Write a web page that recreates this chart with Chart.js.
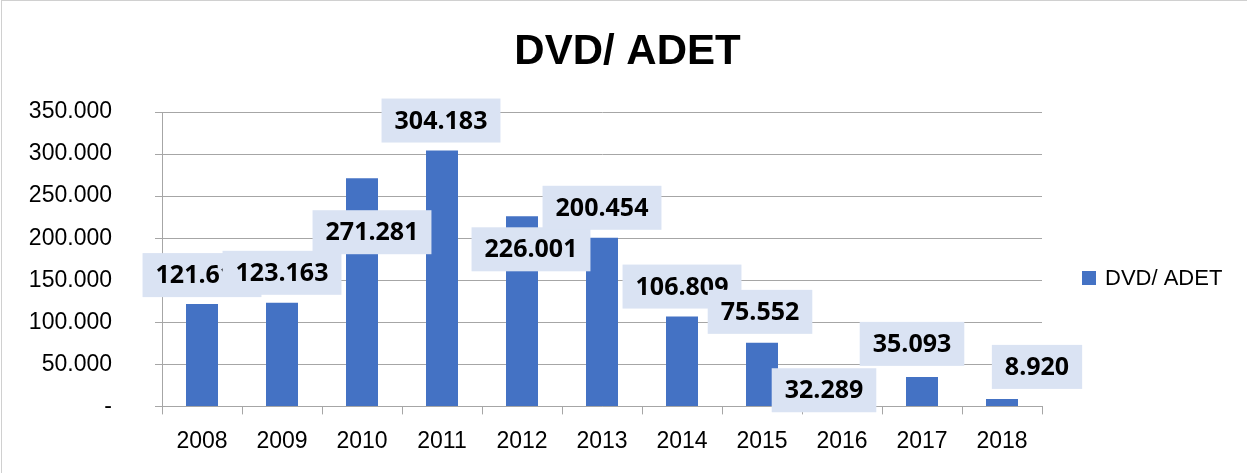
<!DOCTYPE html>
<html>
<head>
<meta charset="utf-8">
<script src="https://cdn.jsdelivr.net/npm/chart.js@4"></script>
<style>
  html, body { margin: 0; padding: 0; background: #fff; }
  #wrap { width: 1247px; height: 473px; position: relative; }
</style>
</head>
<body>
<div id="wrap"><canvas id="chart" width="1247" height="473"></canvas></div>
<script>
// ========== Dados ==========
const anos = ["2008", "2009", "2010", "2011", "2012", "2013", "2014", "2015", "2016", "2017", "2018"];
const dvdAdet = [121612, 123163, 271281, 304183, 226001, 200454, 106809, 75552, 32289, 35093, 8920];
const serieNome = "DVD/ ADET";
const tituloTexto = "DVD/ ADET";
const eixoY = { min: 0, max: 350000, passo: 50000 };

// label placement (label centre relative to bar centre / bar top), like the manual moves in the original
const labelDx = [0, 0, 10, -1, 9, 0, 0, -2, -18, -10, 35];
const labelDy = [-29, -30, 54, -30, 33, -30, -30, -31, 11, -33, -32];

const corBarra = "#4472c4";
const corCaixa = "#dae3f3";
const corGrade = "#a6a6a6";

function formatoTR(v) {
  if (v === 0) return "-";
  return v.toString().replace(/\B(?=(\d{3})+(?!\d))/g, ".");
}

// ========== Plugins ==========
const rotulos = {
  id: "rotulos",
  afterDatasetsDraw(chart) {
    const ctx = chart.ctx;
    const meta = chart.getDatasetMeta(0);
    ctx.save();
    ctx.font = "bold 25px 'Open Sans', 'Liberation Sans', sans-serif";
    ctx.textAlign = "center";
    ctx.textBaseline = "middle";
    meta.data.forEach((bar, i) => {
      const txt = formatoTR(dvdAdet[i]);
      const w = ctx.measureText(txt).width + 26;
      const h = 44;
      const cx = bar.x + labelDx[i];
      const cy = bar.y + labelDy[i];
      ctx.fillStyle = corCaixa;
      ctx.fillRect(cx - w / 2, cy - h / 2, w, h);
      ctx.fillStyle = "#000";
      ctx.fillText(txt, cx, cy + 1);
    });
    ctx.restore();
  },
};

// title centred on the whole canvas, legend on the right, outer border
const tituloLegendaBorda = {
  id: "tituloLegendaBorda",
  afterDraw(chart) {
    const ctx = chart.ctx;
    ctx.save();
    ctx.fillStyle = "#000";
    ctx.font = "bold 42px 'Liberation Sans', sans-serif";
    ctx.textAlign = "center";
    ctx.textBaseline = "middle";
    ctx.fillText(tituloTexto, chart.width / 2 + 4, 52);

    ctx.fillStyle = corBarra;
    ctx.fillRect(1082, 271, 14, 14);
    ctx.fillStyle = "#000";
    ctx.font = "22px 'Liberation Sans', sans-serif";
    ctx.textAlign = "left";
    ctx.fillText(serieNome, 1105, 279);

    ctx.strokeStyle = "#d0d0d0";
    ctx.lineWidth = 1;
    ctx.strokeRect(1.5, 0.5, 1260, 480);
    ctx.restore();
  },
};

// ========== Grafico ==========
new Chart(document.getElementById("chart"), {
  type: "bar",
  data: {
    labels: anos,
    datasets: [
      {
        label: serieNome,
        data: dvdAdet,
        backgroundColor: corBarra,
        categoryPercentage: 1,
        barPercentage: 0.4,
      },
    ],
  },
  options: {
    responsive: false,
    animation: false,
    layout: { padding: { left: 0, right: 205, top: 112, bottom: 5 } },
    plugins: {
      legend: { display: false },
      tooltip: { enabled: false },
      title: { display: false },
    },
    scales: {
      x: {
        offset: true,
        grid: {
          offset: true,
          drawOnChartArea: false,
          drawTicks: true,
          tickLength: 8,
          color: corGrade,
        },
        border: { display: true, color: corGrade },
        ticks: {
          color: "#000",
          padding: 13,
          maxRotation: 0,
          font: { family: "'Liberation Sans', sans-serif", size: 23 },
        },
      },
      y: {
        min: eixoY.min,
        max: eixoY.max,
        afterFit(scale) {
          scale.width = 162;
        },
        grid: { color: corGrade, drawTicks: true, tickLength: 7 },
        border: { display: true, color: corGrade },
        ticks: {
          stepSize: eixoY.passo,
          color: "#000",
          padding: 43,
          font: { family: "'Liberation Sans', sans-serif", size: 23 },
          callback: (v) => formatoTR(v),
        },
      },
    },
  },
  plugins: [rotulos, tituloLegendaBorda],
});
</script>
</body>
</html>
